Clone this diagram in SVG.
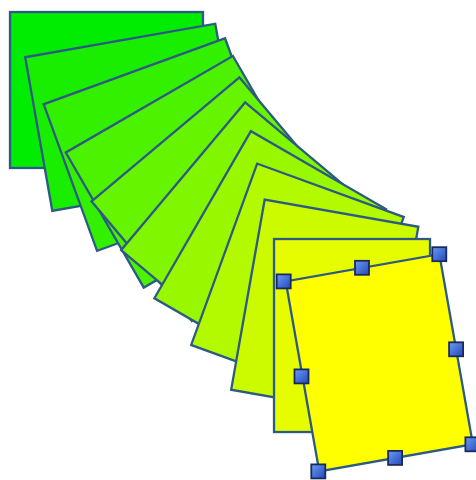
<svg xmlns="http://www.w3.org/2000/svg" width="476" height="480" viewBox="0 0 476 480">
<defs>
<style>
.r{stroke:#2c5a84;stroke-width:2.3;stroke-linejoin:miter}
.h{fill:url(#hg);stroke:#1a2a5e;stroke-width:1.8}
</style>
<linearGradient id="hg" x1="0" y1="0" x2="1" y2="1">
<stop offset="0" stop-color="#6a9cf5"/>
<stop offset="1" stop-color="#2648b8"/>
</linearGradient>
</defs>
<rect width="476" height="480" fill="#ffffff"/>
<g id="rect0"><rect class="r" x="-96.5" y="-78" width="193" height="156" fill="#00ec00" transform="translate(106.5 90) rotate(0)"/></g>
<g id="rect1"><rect class="r" x="-96.5" y="-78" width="193" height="156" fill="#1aee00" transform="translate(133.78 117.28) rotate(-10)"/></g>
<g id="rect2"><rect class="r" x="-96.5" y="-78" width="193" height="156" fill="#33f000" transform="translate(161.06 144.56) rotate(-20)"/></g>
<g id="rect3"><rect class="r" x="-96.5" y="-78" width="193" height="156" fill="#4df200" transform="translate(188.34 171.84) rotate(-30)"/></g>
<g id="rect4"><rect class="r" x="-96.5" y="-78" width="193" height="156" fill="#66f400" transform="translate(215.62 199.12) rotate(-40)"/></g>
<g id="rect5"><rect class="r" x="-96.5" y="-78" width="193" height="156" fill="#80f600" transform="translate(242.9 226.4) rotate(-50)"/></g>
<g id="rect6"><rect class="r" x="-96.5" y="-78" width="193" height="156" fill="#99f700" transform="translate(270.18 253.68) rotate(-60)"/></g>
<g id="rect7"><rect class="r" x="-96.5" y="-78" width="193" height="156" fill="#b3f900" transform="translate(297.46 280.96) rotate(-70)"/></g>
<g id="rect8"><rect class="r" x="-96.5" y="-78" width="193" height="156" fill="#ccfb00" transform="translate(324.74 308.24) rotate(-80)"/></g>
<g id="rect9"><rect class="r" x="-96.5" y="-78" width="193" height="156" fill="#e6fd00" transform="translate(352.02 335.52) rotate(-90)"/></g>
<g id="rect10"><rect class="r" x="-96.5" y="-78" width="193" height="156" fill="#ffff00" transform="translate(379.3 362.8) rotate(-100)"/></g>
<g id="handles">
<rect class="h" x="276.7" y="274.4" width="14" height="14"/>
<rect class="h" x="355" y="260.8" width="14" height="14"/>
<rect class="h" x="432.3" y="247.2" width="14" height="14"/>
<rect class="h" x="449.1" y="342.3" width="14" height="14"/>
<rect class="h" x="465.4" y="437.3" width="14" height="14"/>
<rect class="h" x="388.1" y="450.9" width="14" height="14"/>
<rect class="h" x="311.3" y="464.4" width="14" height="14"/>
<rect class="h" x="294.5" y="369.4" width="14" height="14"/>
</g>
</svg>
